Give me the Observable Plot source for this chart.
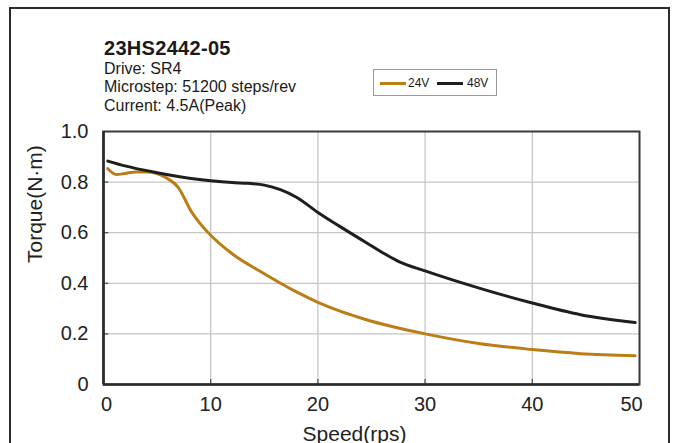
<!DOCTYPE html>
<html>
<head>
<meta charset="utf-8">
<script src="https://cdn.jsdelivr.net/npm/d3@7"></script>
<script src="https://cdn.jsdelivr.net/npm/@observablehq/plot@0.6"></script>
<style>
  html, body { margin: 0; padding: 0; background: #fff; }
  #wrap { position: relative; width: 679px; height: 443px; overflow: hidden; font-family: "Liberation Sans", Arial, sans-serif; }
  #outer { position: absolute; left: 9px; top: 7px; width: 661px; height: 500px; border: 2px solid #2b2b2b; box-sizing: border-box; }
  #chart { position: absolute; left: 0; top: 0; }
  #title { position: absolute; left: 104px; top: 37px; font-size: 20px; font-weight: bold; color: #1a1a1a; letter-spacing: 0.3px; }
  #sub { position: absolute; left: 104px; top: 60px; font-size: 16px; line-height: 18.3px; color: #1a1a1a; }
  #legend { position: absolute; left: 373px; top: 69px; width: 124px; height: 27px; border: 1px solid #999; box-sizing: border-box; font-size: 12px; color: #1a1a1a; }
  .sw { position: absolute; top: 12px; height: 3px; }
  .lt { position: absolute; top: 6px; }
</style>
</head>
<body>
<div id="wrap">
  <div id="outer"></div>
  <div id="chart"></div>
  <div id="title"></div>
  <div id="sub"></div>
  <div id="legend"></div>
</div>
<script>
const titleText = "23HS2442-05";
const subtitleLines = ["Drive: SR4", "Microstep: 51200 steps/rev", "Current: 4.5A(Peak)"];
const seriesNames = ["24V", "48V"];
const seriesColors = ["#bb7d16", "#1e1e1e"];

const speed24 = [0.4, 1.2, 2, 3, 4, 5, 6, 7, 7.5, 8, 9, 10, 12, 15, 18, 20, 22, 24.3, 27, 30, 35, 40, 44.5, 49.6];
const torque24 = [0.853, 0.830, 0.834, 0.840, 0.840, 0.834, 0.813, 0.777, 0.740, 0.698, 0.637, 0.590, 0.517, 0.438, 0.366, 0.325, 0.291, 0.259, 0.228, 0.200, 0.162, 0.138, 0.122, 0.114];

const speed48 = [0.4, 2, 5, 8, 10, 12, 13.5, 15, 16.5, 18, 20, 22, 24.3, 26, 27.5, 30, 35.2, 40, 44.5, 49.6];
const torque48 = [0.883, 0.864, 0.837, 0.815, 0.805, 0.798, 0.795, 0.788, 0.770, 0.740, 0.680, 0.626, 0.566, 0.522, 0.487, 0.449, 0.379, 0.322, 0.276, 0.245];

const xTicks = [0, 10, 20, 30, 40, 50];
const yTicks = [0, 0.2, 0.4, 0.6, 0.8, 1.0];
const xLabel = "Speed(rps)";
const yLabel = "Torque(N·m)";

const d24 = speed24.map((s, i) => ({s, t: torque24[i]}));
const d48 = speed48.map((s, i) => ({s, t: torque48[i]}));

const font = "Liberation Sans, Arial, sans-serif";
const inner = xTicks.slice(1, -1);
const innerY = yTicks.slice(1, -1);

const chart = Plot.plot({
  width: 679,
  height: 443,
  marginLeft: 103,
  marginRight: 40,
  marginTop: 131,
  marginBottom: 59,
  style: {fontFamily: font, background: "transparent", color: "#222"},
  x: {domain: [0, 50]},
  y: {domain: [0, 1]},
  marks: [
    Plot.gridX(inner, {stroke: "#c6c6c6", strokeOpacity: 1, strokeWidth: 1.3}),
    Plot.gridY(innerY, {stroke: "#c6c6c6", strokeOpacity: 1, strokeWidth: 1.3}),
    Plot.ruleX(inner, {y1: 0, y2: 0.02, stroke: "#555", strokeWidth: 1.3}),
    Plot.ruleY(innerY, {x1: 0, x2: 0.5, stroke: "#555", strokeWidth: 1.3}),
    Plot.frame({stroke: "#3a3a3a", strokeWidth: 2}),
    Plot.ruleX([0], {stroke: "#2a2a2a", strokeWidth: 2.6}),
    Plot.ruleY([0], {stroke: "#2a2a2a", strokeWidth: 2.6}),
    Plot.line(d24, {x: "s", y: "t", stroke: seriesColors[0], strokeWidth: 3, curve: "monotone-x"}),
    Plot.line(d48, {x: "s", y: "t", stroke: seriesColors[1], strokeWidth: 3, curve: "monotone-x"}),
    Plot.axisX([xTicks[0]], {tickSize: 0, tickPadding: 12, fontSize: 20, dx: 3, label: null, tickFormat: d => String(d)}),
    Plot.axisX(inner, {tickSize: 0, tickPadding: 12, fontSize: 20, label: null, tickFormat: d => String(d)}),
    Plot.axisX([xTicks[xTicks.length - 1]], {tickSize: 0, tickPadding: 12, fontSize: 20, dx: -8, label: null, tickFormat: d => String(d)}),
    Plot.axisY(yTicks, {tickSize: 0, tickPadding: 15, fontSize: 20, label: null, tickFormat: d => d === 0 ? "0" : d.toFixed(1)}),
    Plot.text([xLabel], {frameAnchor: "bottom", dy: 56, dx: -17, lineAnchor: "bottom", fontSize: 21, fill: "#222"}),
    Plot.text([yLabel], {frameAnchor: "left", dx: -68, dy: 5, rotate: -90, fontSize: 21, fill: "#222"})
  ]
});
document.getElementById("chart").appendChild(chart);

document.getElementById("title").textContent = titleText;
document.getElementById("sub").innerHTML = subtitleLines.map(l => `<div>${l}</div>`).join("");

const lg = document.getElementById("legend");
const swX = [6, 63], txX = [34, 93];
seriesNames.forEach((n, i) => {
  const sw = document.createElement("div");
  sw.className = "sw";
  sw.style.left = swX[i] + "px";
  sw.style.width = "26px";
  sw.style.background = seriesColors[i];
  lg.appendChild(sw);
  const t = document.createElement("div");
  t.className = "lt";
  t.style.left = txX[i] + "px";
  t.textContent = n;
  lg.appendChild(t);
});
</script>
</body>
</html>
